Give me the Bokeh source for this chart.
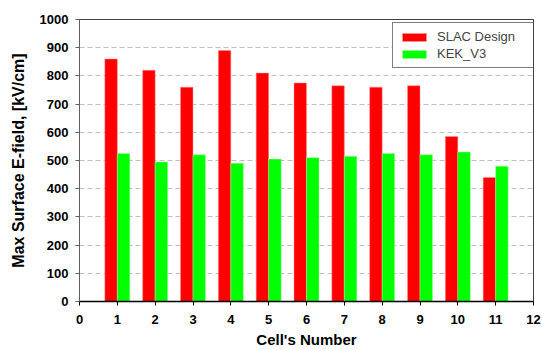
from bokeh.plotting import figure
from bokeh.models import ColumnDataSource, Legend, LegendItem, Range1d, FixedTicker
from bokeh.transform import dodge
from bokeh.embed import file_html
from bokeh.resources import INLINE

cells = [1, 2, 3, 4, 5, 6, 7, 8, 9, 10, 11]
slac_design = [860, 820, 760, 890, 810, 775, 765, 760, 765, 585, 440]
kek_v3 = [525, 495, 520, 490, 505, 510, 515, 525, 520, 530, 480]
x_ticks = list(range(0, 13))
y_ticks = list(range(0, 1001, 100))

src = ColumnDataSource(dict(cells=cells, slac=slac_design, kek=kek_v3))

p = figure(width=542, height=350, output_backend="svg", toolbar_location=None,
           x_range=Range1d(0, 12), y_range=Range1d(0, 1000),
           min_border_left=79, min_border_top=19, min_border_right=9, min_border_bottom=49)
p.background_fill_color = "white"
p.border_fill_color = "white"
p.outline_line_color = "#404040"
p.outline_line_width = 1

r1 = p.vbar(x=dodge("cells", -0.165, range=p.x_range), top="slac", width=0.33, bottom=0,
            source=src, fill_color="#ff0000", line_color="#ff9090", line_width=0.5)
r2 = p.vbar(x=dodge("cells", 0.165, range=p.x_range), top="kek", width=0.33, bottom=0,
            source=src, fill_color="#00ff00", line_color="#a0ffa0", line_width=0.5)

p.xaxis.ticker = FixedTicker(ticks=x_ticks)
p.yaxis.ticker = FixedTicker(ticks=y_ticks)
p.xaxis.minor_tick_line_color = None
p.yaxis.minor_tick_line_color = None
for ax in (p.xaxis, p.yaxis):
    ax.major_tick_in = 0
    ax.major_tick_out = 4
    ax.major_label_text_font = "Liberation Sans"
    ax.major_label_text_font_style = "bold"
    ax.major_label_text_font_size = "13px"
    ax.major_label_text_color = "black"
    ax.axis_label_text_font = "Liberation Sans"
    ax.axis_label_text_font_style = "bold"
    ax.axis_label_text_color = "black"
p.xaxis.axis_label_text_font_size = "15px"
p.yaxis.axis_label_text_font_size = "16px"
p.xaxis.axis_line_color = "black"
p.xaxis.axis_line_width = 1.5
p.yaxis.axis_line_color = "#606060"
p.xaxis.major_tick_line_color = "black"
p.yaxis.major_tick_line_color = "#606060"
p.xaxis.axis_label = "Cell's Number"
p.yaxis.axis_label = "Max Surface E-field, [kV/cm]"
p.xaxis.major_label_standoff = 9
p.yaxis.major_label_standoff = 7
p.xaxis.axis_label_standoff = 4
p.yaxis.axis_label_standoff = 10

p.xgrid.grid_line_color = None
p.ygrid.grid_line_color = "#c0c0c0"
p.ygrid.grid_line_dash = "5 3"
p.ygrid.grid_line_width = 1

legend = Legend(items=[LegendItem(label="SLAC Design", renderers=[r1]),
                       LegendItem(label="KEK_V3", renderers=[r2])],
                location=(313, 233))
legend.border_line_color = "black"
legend.border_line_width = 1
legend.background_fill_color = "white"
legend.background_fill_alpha = 1
legend.label_text_font = "Liberation Sans"
legend.label_text_font_size = "13px"
legend.glyph_width = 30
legend.glyph_height = 10
legend.label_height = 14
legend.label_width = 90
legend.padding = 6
legend.spacing = 2
legend.margin = 0
legend.label_standoff = 8
p.add_layout(legend, "center")

open("out.html", "w").write(file_html(p, INLINE))
